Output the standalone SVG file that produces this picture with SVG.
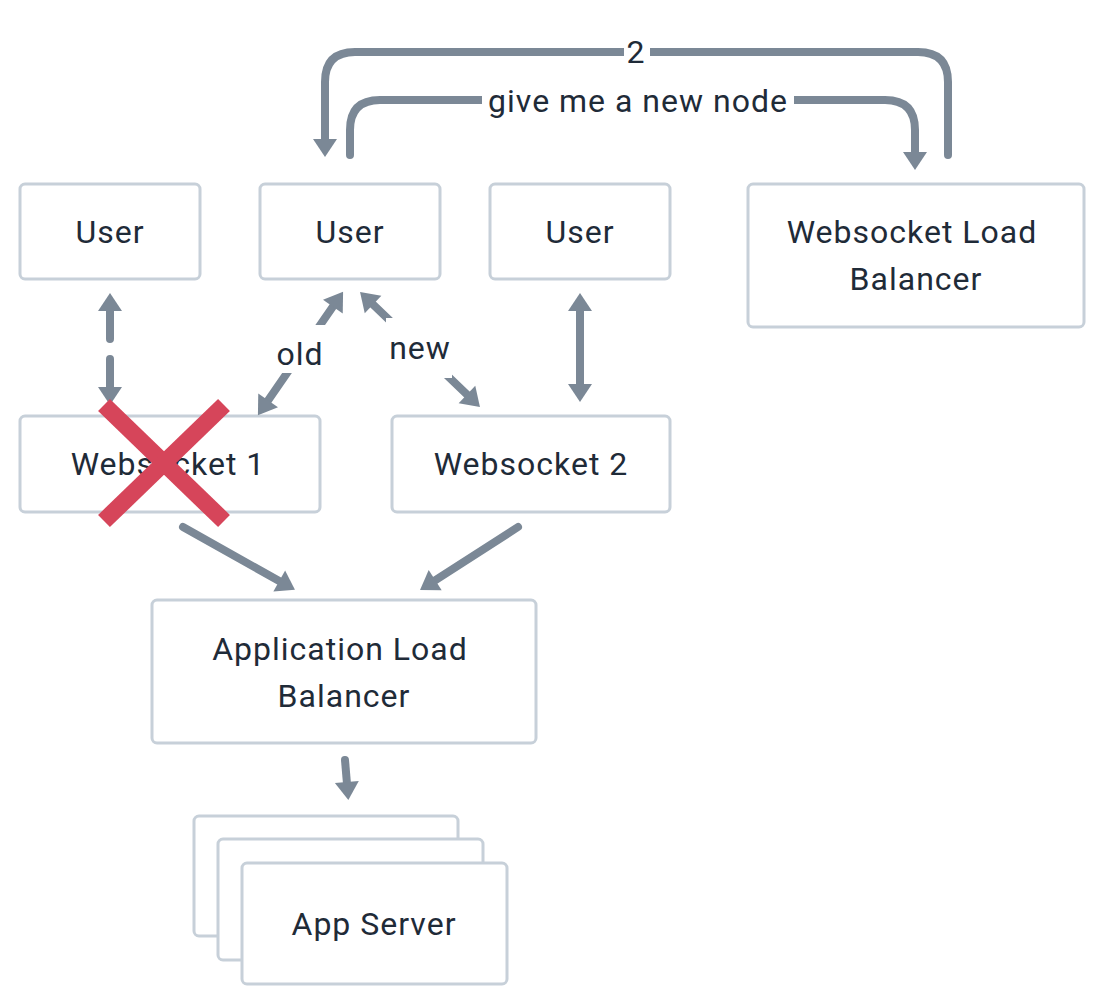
<svg xmlns="http://www.w3.org/2000/svg" width="1104" height="1004" viewBox="0 0 1104 1004">
<style>
.box{fill:#fff;stroke:#c7d0d9;stroke-width:3}
.t{font-family:Roboto,"Liberation Sans",sans-serif;font-size:32px;letter-spacing:1px;fill:#1f2b38;text-anchor:middle;dominant-baseline:central}
.c{fill:none;stroke:#7b8896;stroke-width:8;stroke-linecap:round}
.lbl{font-family:Roboto,"Liberation Sans",sans-serif;font-size:32px;letter-spacing:1px;fill:#1f2b38;text-anchor:middle;dominant-baseline:central}
</style>
<defs>
<marker id="ah" markerUnits="userSpaceOnUse" markerWidth="26" markerHeight="26" viewBox="0 -13 20 26" refX="2" refY="0" orient="auto-start-reverse" overflow="visible">
<path d="M0,-12 L18,0 L0,12 z" fill="#7b8896"/>
</marker>
</defs>
<rect width="1104" height="1004" fill="#fff"/>

<g id="user1"><rect class="box" x="20" y="184" width="180" height="95" rx="5"/><text class="t" x="110" y="232">User</text></g>
<g id="user2"><rect class="box" x="260" y="184" width="180" height="95" rx="5"/><text class="t" x="350" y="232">User</text></g>
<g id="user3"><rect class="box" x="490" y="184" width="180" height="95" rx="5"/><text class="t" x="580" y="232">User</text></g>
<g id="ws-lb"><rect class="box" x="748" y="184" width="336" height="143" rx="5"/><text class="t" x="912" y="232">Websocket Load</text><text class="t" x="916" y="279">Balancer</text></g>
<g id="ws1"><rect class="box" x="20" y="416" width="300" height="96" rx="5"/><text class="t" x="168" y="464">Websocket 1</text></g>
<g id="ws2"><rect class="box" x="392" y="416" width="278" height="96" rx="5"/><text class="t" x="531" y="464">Websocket 2</text></g>
<g id="app-lb"><rect class="box" x="152" y="600" width="384" height="143" rx="5"/><text class="t" x="340" y="649">Application Load</text><text class="t" x="344" y="696">Balancer</text></g>
<g id="app-server">
<rect class="box" x="194" y="816" width="264" height="120" rx="5"/>
<rect class="box" x="218" y="839" width="265" height="121" rx="5"/>
<rect class="box" x="242" y="863" width="265" height="121" rx="5"/>
<text class="t" x="374" y="924">App Server</text>
</g>

<g id="connectors">
<path class="c" d="M948,155 L948,82 Q948,52 918,52 L355,52 Q325,52 325,82 L325,141" marker-end="url(#ah)"/>
<rect x="624" y="34" width="26" height="36" fill="#fff"/>
<text class="lbl" x="636" y="52">2</text>
<path class="c" d="M350,155 L350,130 Q350,100 380,100 L885,100 Q915,100 915,130 L915,154" marker-end="url(#ah)"/>
<rect x="482" y="84" width="312" height="34" fill="#fff"/>
<text class="lbl" x="638" y="101">give me a new node</text>

<line class="c" x1="110" y1="309" x2="110" y2="389" stroke-dasharray="30 20" stroke-linecap="butt" marker-start="url(#ah)" marker-end="url(#ah)"/>

<line class="c" x1="267" y1="402" x2="334" y2="305" marker-start="url(#ah)" marker-end="url(#ah)"/>
<rect x="272" y="325" width="60" height="48" fill="#fff"/>
<text class="lbl" x="300" y="354">old</text>

<line class="c" x1="371.6" y1="303.1" x2="468.4" y2="395.9" marker-start="url(#ah)" marker-end="url(#ah)"/>
<rect x="386" y="318" width="66" height="60" fill="#fff"/>
<text class="lbl" x="420" y="348">new</text>

<line class="c" x1="580" y1="309" x2="580" y2="386" marker-start="url(#ah)" marker-end="url(#ah)"/>

<line class="c" x1="183" y1="527" x2="281" y2="582" marker-end="url(#ah)"/>
<line class="c" x1="518" y1="527" x2="433.5" y2="581.3" marker-end="url(#ah)"/>
<line class="c" x1="345" y1="760" x2="347" y2="784" marker-end="url(#ah)"/>
</g>

<g id="cross">
<line x1="104" y1="405" x2="224" y2="521" stroke="#d6455a" stroke-width="17"/>
<line x1="224" y1="405" x2="104" y2="521" stroke="#d6455a" stroke-width="17"/>
</g>
</svg>
